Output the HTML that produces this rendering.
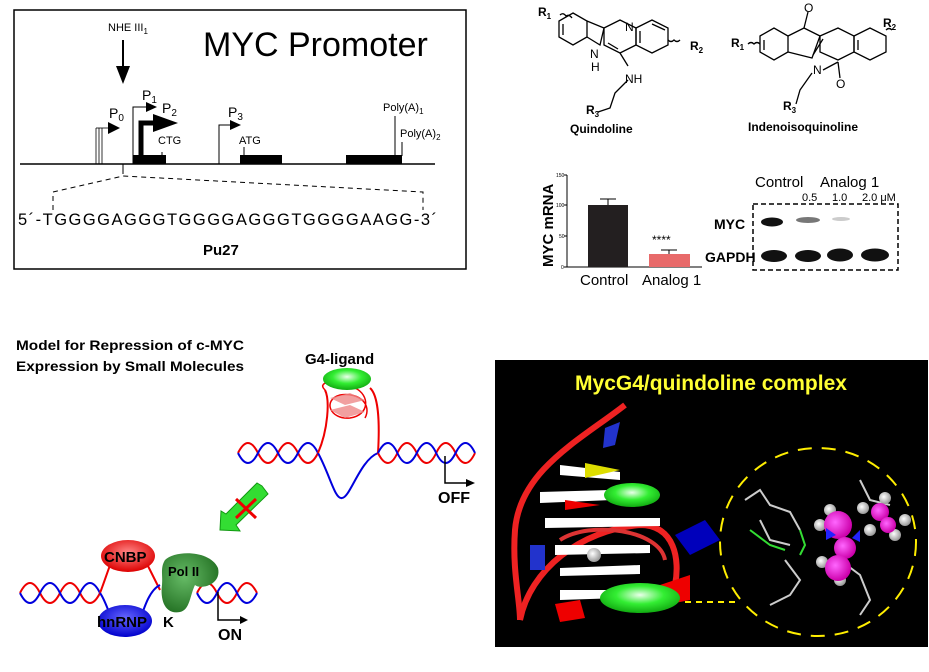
<!DOCTYPE html>
<html><head><meta charset="utf-8"><style>
html,body{margin:0;padding:0;background:#fff;}
svg{display:block;font-family:"Liberation Sans",sans-serif;}
</style></head><body>
<svg width="929" height="672" viewBox="0 0 929 672" xmlns="http://www.w3.org/2000/svg">
<defs>
<radialGradient id="gg" cx="0.5" cy="0.4" r="0.6"><stop offset="0" stop-color="#eaffea"/><stop offset="0.5" stop-color="#33ee33"/><stop offset="1" stop-color="#11aa11"/></radialGradient>
<radialGradient id="rg" cx="0.5" cy="0.4" r="0.6"><stop offset="0" stop-color="#ff8888"/><stop offset="1" stop-color="#dd0000"/></radialGradient>
<radialGradient id="bg" cx="0.5" cy="0.4" r="0.6"><stop offset="0" stop-color="#6666ff"/><stop offset="1" stop-color="#0000cc"/></radialGradient>
<radialGradient id="pg" cx="0.4" cy="0.4" r="0.7"><stop offset="0" stop-color="#66bb66"/><stop offset="1" stop-color="#1e6b1e"/></radialGradient>
<radialGradient id="mg" cx="0.4" cy="0.4" r="0.6"><stop offset="0" stop-color="#ff66ff"/><stop offset="1" stop-color="#cc00aa"/></radialGradient>
<radialGradient id="wg" cx="0.4" cy="0.4" r="0.6"><stop offset="0" stop-color="#fff"/><stop offset="1" stop-color="#999"/></radialGradient>
</defs>

<!-- Panel 1: MYC promoter -->
<rect x="14" y="10" width="452" height="259" fill="#fff" stroke="#000" stroke-width="1.5"/>
<text x="203" y="56" font-size="34">MYC Promoter</text>
<text x="108" y="31" font-size="11">NHE III<tspan font-size="8" dy="3">1</tspan></text>
<line x1="123" y1="40" x2="123" y2="68" stroke="#000" stroke-width="2"/>
<polygon points="116,66 130,66 123,84" fill="#000"/>
<line x1="20" y1="164" x2="435" y2="164" stroke="#000" stroke-width="1.5"/>
<!-- P0 -->
<g stroke="#000" stroke-width="0.8"><line x1="96" y1="128" x2="96" y2="164"/><line x1="99" y1="128" x2="99" y2="164"/><line x1="102" y1="128" x2="102" y2="164"/><line x1="96" y1="128" x2="110" y2="128"/></g>
<polygon points="108,122 120,128 108,134" fill="#000"/>
<text x="109" y="118" font-size="14">P<tspan font-size="10" dy="3">0</tspan></text>
<!-- P1 P2 -->
<polyline points="133,164 133,107 148,107" fill="none" stroke="#000" stroke-width="1"/>
<polygon points="146,102 157,107 146,112" fill="#000"/>
<text x="142" y="100" font-size="14">P<tspan font-size="10" dy="3">1</tspan></text>
<polyline points="141,164 141,123 156,123" fill="none" stroke="#000" stroke-width="5"/>
<polygon points="153,114 178,123 153,132" fill="#000"/>
<text x="162" y="113" font-size="14">P<tspan font-size="10" dy="3">2</tspan></text>
<rect x="133" y="155" width="33" height="9" fill="#000"/>
<line x1="162" y1="152" x2="162" y2="156" stroke="#000"/>
<text x="158" y="144" font-size="11">CTG</text>
<!-- P3 -->
<polyline points="219,164 219,125 232,125" fill="none" stroke="#000" stroke-width="1"/>
<polygon points="230,120 241,125 230,130" fill="#000"/>
<text x="228" y="117" font-size="14">P<tspan font-size="10" dy="3">3</tspan></text>
<text x="239" y="144" font-size="11">ATG</text>
<line x1="244" y1="147" x2="244" y2="156" stroke="#000"/>
<rect x="240" y="155" width="42" height="9" fill="#000"/>
<rect x="346" y="155" width="56" height="9" fill="#000"/>
<line x1="395" y1="116" x2="395" y2="156" stroke="#000"/>
<line x1="402" y1="142" x2="402" y2="156" stroke="#000"/>
<text x="383" y="111" font-size="11">Poly(A)<tspan font-size="8" dy="3">1</tspan></text>
<text x="400" y="137" font-size="11">Poly(A)<tspan font-size="8" dy="3">2</tspan></text>
<line x1="123" y1="164" x2="123" y2="174" stroke="#000"/>
<g stroke="#000" stroke-dasharray="5,4" fill="none"><polyline points="53,210 53,192 123,176 423,192 423,210"/></g>
<text x="18" y="225" font-size="16.5" textLength="419">5´-TGGGGAGGGTGGGGAGGGTGGGGAAGG-3´</text>
<text x="203" y="255" font-size="15" font-weight="bold">Pu27</text>

<!-- Chemical structures -->
<g stroke="#000" stroke-width="1.3" fill="none">
<polygon points="573,13 587,21 587,37 573,45 559,37 559,21"/>
<polyline points="587,21 604,28 600,45 587,37"/>
<polygon points="604,28 620,20 636,28 636,45 620,53 604,45" />
<polygon points="636,28 652,20 668,28 668,45 652,53 636,45"/>
<line x1="608" y1="43" x2="618" y2="49"/><line x1="640" y1="31" x2="640" y2="43"/>
<line x1="563" y1="24" x2="563" y2="35"/><line x1="652" y1="24" x2="665" y2="30"/>
<line x1="620" y1="53" x2="628" y2="66"/>
<polyline points="628,80 615,93 610,108 598,112"/>
<path d="M572,18 q-3,-4 -6,-2 q-3,-4 -6,-1" />
<path d="M668,40 q3,3 6,0 q3,3 6,0"/>
<polygon points="760,36 774,28 788,36 788,52 774,60 760,52"/>
<polyline points="788,36 804,28 820,36 812,58 788,52"/>
<line x1="804" y1="28" x2="808" y2="12"/>
<polygon points="820,36 838,28 854,36 854,52 838,60 820,52"/>
<polygon points="854,36 870,28 886,36 886,52 870,60 854,52"/>
<line x1="764" y1="40" x2="764" y2="50"/><line x1="858" y1="40" x2="858" y2="50"/>
<line x1="823" y1="39" x2="813" y2="55"/>
<line x1="823" y1="70" x2="838" y2="62"/><line x1="838" y1="62" x2="840" y2="78"/>
<polyline points="812,73 800,90 796,104"/>
<path d="M760,44 q-3,-3 -6,0 q-3,-3 -6,0"/>
<path d="M886,30 q3,-3 6,0"/>
</g>
<g font-size="12" font-weight="bold">
<text x="538" y="16">R<tspan font-size="8" dy="3">1</tspan></text>
<text x="690" y="50">R<tspan font-size="8" dy="3">2</tspan></text>
<text x="590" y="58" font-weight="normal" font-size="12">N</text>
<text x="591" y="71" font-weight="normal" font-size="12">H</text>
<text x="625" y="31" font-weight="normal">N</text>
<text x="625" y="83" font-weight="normal">NH</text>
<text x="586" y="114">R<tspan font-size="8" dy="3">3</tspan></text>
<text x="570" y="133">Quindoline</text>
<text x="804" y="12" font-weight="normal">O</text>
<text x="883" y="27">R<tspan font-size="8" dy="3">2</tspan></text>
<text x="731" y="47">R<tspan font-size="8" dy="3">1</tspan></text>
<text x="813" y="74" font-weight="normal">N</text>
<text x="836" y="88" font-weight="normal">O</text>
<text x="783" y="110">R<tspan font-size="8" dy="3">3</tspan></text>
<text x="748" y="131">Indenoisoquinoline</text>
</g>

<!-- Bar chart -->
<g stroke="#000" stroke-width="1">
<line x1="567" y1="175" x2="567" y2="267"/><line x1="567" y1="267" x2="702" y2="267"/>
<line x1="564" y1="175" x2="567" y2="175"/><line x1="564" y1="205" x2="567" y2="205"/><line x1="564" y1="236" x2="567" y2="236"/><line x1="564" y1="267" x2="567" y2="267"/>
<line x1="608" y1="199" x2="608" y2="205"/><line x1="600" y1="199" x2="616" y2="199"/>
<line x1="669" y1="250" x2="669" y2="254"/><line x1="661" y1="250" x2="677" y2="250"/>
</g>
<g font-size="5"><text x="556" y="177">150</text><text x="556" y="207">100</text><text x="559" y="238">50</text><text x="561" y="269">0</text></g>
<rect x="588" y="205" width="40" height="62" fill="#231f20"/>
<rect x="649" y="254" width="41" height="13" fill="#e86a6a"/>
<text x="652" y="244" font-size="12">****</text>
<text transform="translate(553,267) rotate(-90)" font-size="15" font-weight="bold">MYC mRNA</text>
<text x="580" y="285" font-size="15">Control</text>
<text x="642" y="285" font-size="15">Analog 1</text>

<!-- Blot -->
<text x="755" y="187" font-size="15">Control</text>
<text x="820" y="187" font-size="15">Analog 1</text>
<text x="802" y="201" font-size="11">0.5</text><text x="832" y="201" font-size="11">1.0</text><text x="862" y="201" font-size="11">2.0 μM</text>
<rect x="753" y="204" width="145" height="66" fill="none" stroke="#000" stroke-width="1.5" stroke-dasharray="5,3"/>
<text x="714" y="229" font-size="14" font-weight="bold">MYC</text>
<text x="705" y="262" font-size="14" font-weight="bold">GAPDH</text>
<ellipse cx="772" cy="222" rx="11" ry="4.5" fill="#111"/>
<ellipse cx="808" cy="220" rx="12" ry="3" fill="#777"/>
<ellipse cx="841" cy="219" rx="9" ry="2" fill="#ccc"/>
<ellipse cx="774" cy="256" rx="13" ry="6" fill="#111"/>
<ellipse cx="808" cy="256" rx="13" ry="6" fill="#111"/>
<ellipse cx="840" cy="255" rx="13" ry="6.5" fill="#111"/>
<ellipse cx="875" cy="255" rx="14" ry="6.5" fill="#111"/>

<!-- Model -->
<text x="16" y="350" font-size="14" font-weight="bold" textLength="228" lengthAdjust="spacingAndGlyphs">Model for Repression of c-MYC</text>
<text x="16" y="371" font-size="14" font-weight="bold" textLength="228" lengthAdjust="spacingAndGlyphs">Expression by Small Molecules</text>
<text x="305" y="364" font-size="15" font-weight="bold">G4-ligand</text>
<!-- OFF helix -->
<g fill="none" stroke-width="2">
<path d="M238,453 q10,-20 20,0 t20,0 t20,0 t20,0" stroke="#e00"/>
<path d="M238,453 q10,20 20,0 t20,0 t20,0 t20,0" stroke="#00d"/>
<path d="M318,453 C330,475 335,500 342,498 C350,498 360,460 378,453" stroke="#00d"/>
<path d="M318,453 C328,430 330,400 325,390 M378,453 C380,420 378,395 370,388" stroke="#e00"/>
<path d="M378,453 q10,20 19.4,0 t19.4,0 t19.4,0 t19.4,0 t19.4,0" stroke="#e00"/>
<path d="M378,453 q10,-20 19.4,0 t19.4,0 t19.4,0 t19.4,0 t19.4,0" stroke="#00d"/>
</g>
<g fill="none" stroke="#e00" stroke-width="1.5">
<path d="M325,390 C315,380 340,380 355,388 C370,395 370,415 350,418 C330,420 322,400 340,395 C360,392 372,405 365,418"/>
</g>
<polygon points="330,398 350,393 365,400 345,405" fill="#e88" opacity="0.8"/>
<polygon points="330,410 350,405 365,412 345,418" fill="#e88" opacity="0.8"/>
<ellipse cx="347" cy="379" rx="24" ry="11" fill="url(#gg)"/>
<polyline points="445,456 445,483 470,483" fill="none" stroke="#000" stroke-width="1.5"/>
<polygon points="466,479 475,483 466,487" fill="#000"/>
<text x="438" y="503" font-size="16" font-weight="bold">OFF</text>
<!-- green arrow -->
<polygon points="262,486 268,494 236,525 240,531 220,530 221,511 226,514 257,483" fill="#33dd33" stroke="#119911"/>
<g stroke="#e00" stroke-width="3"><line x1="236" y1="499" x2="256" y2="518"/><line x1="256" y1="499" x2="236" y2="518"/></g>
<!-- ON helix -->
<g fill="none" stroke-width="2">
<path d="M20,593 q10,-20 20,0 t20,0 t20,0 t20,0" stroke="#e00"/>
<path d="M20,593 q10,20 20,0 t20,0 t20,0 t20,0" stroke="#00d"/>
<path d="M100,593 C105,580 108,570 112,560 M145,560 C150,570 155,580 160,590" stroke="#e00"/>
<path d="M100,593 C105,600 108,610 112,620 M140,620 C145,605 150,590 160,585" stroke="#00d"/>
<path d="M197,593 q10,-20 20,0 t20,0 t20,0" stroke="#e00"/>
<path d="M197,593 q10,20 20,0 t20,0 t20,0" stroke="#00d"/>
</g>
<ellipse cx="128" cy="556" rx="27" ry="16" fill="url(#rg)"/>
<text x="104" y="562" font-size="15" font-weight="bold">CNBP</text>
<ellipse cx="125" cy="621" rx="27" ry="16" fill="url(#bg)"/>
<text x="97" y="627" font-size="15" font-weight="bold">hnRNP</text><text x="163" y="627" font-size="15" font-weight="bold">K</text>
<path d="M165,560 C175,550 210,550 218,568 C222,585 200,590 195,585 C190,595 190,610 180,612 C165,615 160,600 162,585 C163,575 160,568 165,560 Z" fill="url(#pg)"/>
<text x="168" y="576" font-size="13" font-weight="bold">Pol II</text>
<polyline points="218,592 218,620 243,620" fill="none" stroke="#000" stroke-width="1.5"/>
<polygon points="240,616 248,620 240,624" fill="#000"/>
<text x="218" y="640" font-size="16" font-weight="bold">ON</text>

<!-- Black panel -->
<rect x="495" y="360" width="433" height="287" fill="#000"/>
<text x="711" y="390" font-size="21" font-weight="bold" fill="#ffff33" text-anchor="middle">MycG4/quindoline complex</text>
<path d="M625,405 C580,440 520,470 515,530 C512,570 520,600 520,620" fill="none" stroke="#ee2222" stroke-width="6"/>
<path d="M520,620 C530,570 580,530 640,525 C675,525 680,560 675,585" fill="none" stroke="#ee2222" stroke-width="6"/>
<path d="M560,540 C590,520 660,530 665,560" fill="none" stroke="#dd3333" stroke-width="4"/>
<g fill="#fff">
<polygon points="560,465 620,472 620,480 560,475"/>
<polygon points="540,492 610,490 612,500 540,503"/>
<polygon points="545,518 660,518 660,526 545,528"/>
<polygon points="555,545 650,545 650,553 555,555"/>
<polygon points="560,568 640,565 640,574 560,576"/>
<polygon points="560,590 620,590 620,598 560,600"/>
</g>
<polygon points="585,463 620,470 585,478" fill="#dddd00"/>
<polygon points="565,500 600,505 565,510" fill="#e00"/>
<polygon points="555,604 580,600 585,618 560,622" fill="#e00"/>
<polygon points="660,585 690,575 690,600 665,605" fill="#e00"/>
<polygon points="605,428 620,422 615,445 603,448" fill="#2233cc"/>
<polygon points="675,535 705,520 720,540 690,555" fill="#0000bb"/>
<polygon points="530,545 545,545 545,570 530,570" fill="#2233cc"/>
<ellipse cx="632" cy="495" rx="28" ry="12" fill="url(#gg)"/>
<ellipse cx="640" cy="598" rx="40" ry="15" fill="url(#gg)"/>
<circle cx="594" cy="555" r="7" fill="url(#wg)"/>
<line x1="685" y1="602" x2="740" y2="602" stroke="#ffee00" stroke-width="2" stroke-dasharray="6,5"/>
<ellipse cx="818" cy="542" rx="98" ry="94" fill="none" stroke="#ffee00" stroke-width="2" stroke-dasharray="14,10"/>
<g stroke="#ccc" stroke-width="2" fill="none"><path d="M745,500 L760,490 L770,505 L790,512 L800,530 M760,520 L770,540 L790,545 M785,560 L800,580 L790,595 L770,605 M840,560 L860,575 L870,600 L860,615 M860,480 L870,500 L890,505"/></g>
<g stroke="#33dd33" stroke-width="2" fill="none"><path d="M750,530 L770,545 L785,550 M800,530 L805,545 L800,555"/></g>
<g fill="url(#wg)"><circle cx="830" cy="510" r="6"/><circle cx="820" cy="525" r="6"/><circle cx="822" cy="562" r="6"/><circle cx="840" cy="580" r="6"/><circle cx="863" cy="508" r="6"/><circle cx="885" cy="498" r="6"/><circle cx="905" cy="520" r="6"/><circle cx="895" cy="535" r="6"/><circle cx="870" cy="530" r="6"/></g>
<g fill="url(#mg)"><circle cx="838" cy="525" r="14"/><circle cx="845" cy="548" r="11"/><circle cx="838" cy="568" r="13"/><circle cx="880" cy="512" r="9"/><circle cx="888" cy="525" r="8"/></g>
<polygon points="826,528 836,535 826,540" fill="#22f"/><polygon points="860,530 852,538 860,542" fill="#22f"/>
</svg>
</body></html>
